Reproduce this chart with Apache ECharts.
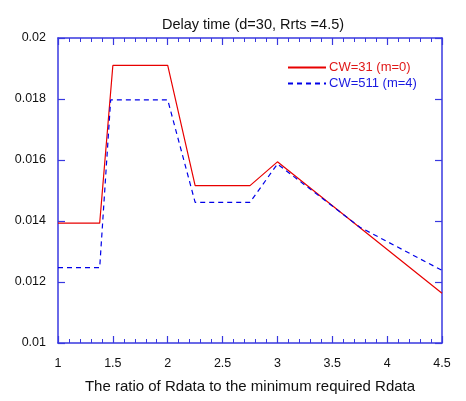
<!DOCTYPE html>
<html><head><meta charset="utf-8">
<script src="https://cdn.jsdelivr.net/npm/echarts@6/dist/echarts.min.js"></script>
<style>html,body{margin:0;padding:0;background:#fff}#c{width:466px;height:401px}</style>
</head><body><div id="c"></div>
<script>
var titleText = 'Delay time (d=30, Rrts =4.5)';
var xAxisName = 'The ratio of Rdata to the minimum required Rdata';
var seriesNames = ['CW=31 (m=0)', 'CW=511 (m=4)'];
var redX = [1, 1.38, 1.5, 2, 2.25, 2.75, 3, 4.5];
var redY = [0.01393, 0.01393, 0.0191, 0.0191, 0.01516, 0.01516, 0.01594, 0.01163];
var blueX = [1, 1.38, 1.48, 2, 2.25, 2.75, 3, 3.75, 4.5];
var blueY = [0.01247, 0.01247, 0.01797, 0.01797, 0.01461, 0.01461, 0.01587, 0.0138, 0.01238];
var xTicks = [1, 1.5, 2, 2.5, 3, 3.5, 4, 4.5];
var yTicks = [0.01, 0.012, 0.014, 0.016, 0.018, 0.02];

function pairs(xs, ys){ return xs.map(function(x,i){return [x, ys[i]];}); }
var axisColor = '#3838e0';
var font = 'Liberation Sans, Arial, sans-serif';
function xAx(pos, showLabel){
  return {type:'value', position:pos, min:1, max:4.5, interval:0.5,
    name: pos==='bottom'? xAxisName : '', nameLocation:'middle', nameGap:36,
    nameTextStyle:{fontFamily:font, fontSize:15, color:'#111'},
    axisLine:{show:true, onZero:false, lineStyle:{color:axisColor, width:1.5}},
    axisTick:{show:true, inside:true, length:7, lineStyle:{color:axisColor, width:1.2}},
    minorTick:{show:true, splitNumber:5, length:4, lineStyle:{color:axisColor, width:1}},
    axisLabel:{show:showLabel, margin:14, fontFamily:font, fontSize:12.5, color:'#111',
      formatter:function(v){return xTicks.indexOf(v)>=0? String(v):'';}},
    splitLine:{show:false}};
}
function yAx(pos, showLabel){
  return {type:'value', position:pos, min:0.01, max:0.02, interval:0.002,
    axisLine:{show:true, onZero:false, lineStyle:{color:axisColor, width:1.5}},
    axisTick:{show:true, inside:true, length:7, lineStyle:{color:axisColor, width:1.2}},
    axisLabel:{show:showLabel, margin:12, fontFamily:font, fontSize:12.5, color:'#111',
      formatter:function(v){ var r=Math.round(v*1000)/1000; return yTicks.some(function(t){return Math.abs(t-r)<1e-9;})? String(r):''; }},
    splitLine:{show:false}};
}
var chart = echarts.init(document.getElementById('c'), null, {renderer:'canvas'});
chart.setOption({
  animation:false,
  backgroundColor:'#fff',
  title:{text:titleText, left:248, textAlign:'center', top:12,
    textStyle:{fontFamily:font, fontSize:14.5, fontWeight:'normal', color:'#111'}},
  grid:{left:58, right:24, top:38, bottom:58},
  legend:{orient:'vertical', left:282, top:56, itemWidth:38, itemHeight:10, itemGap:3,
    itemStyle:{opacity:0},
    data:[{name:seriesNames[0], textStyle:{color:'#e01818'}},
          {name:seriesNames[1], textStyle:{color:'#1a1ae0'}}],
    textStyle:{fontFamily:font, fontSize:13, padding:[0,0,0,-2]}},
  xAxis:[xAx('bottom', true), xAx('top', false)],
  yAxis:[yAx('left', true), yAx('right', false)],
  series:[
    {name:seriesNames[0], type:'line', data:pairs(redX, redY), showSymbol:false, symbol:'none',
      lineStyle:{color:'#e80000', width:1.2}, itemStyle:{color:'#e80000'}},
    {name:seriesNames[1], type:'line', data:pairs(blueX, blueY), showSymbol:false, symbol:'none',
      lineStyle:{color:'#0000e8', width:1.2, type:[5,4]}, itemStyle:{color:'#0000e8'}}
  ]
});
</script></body></html>
